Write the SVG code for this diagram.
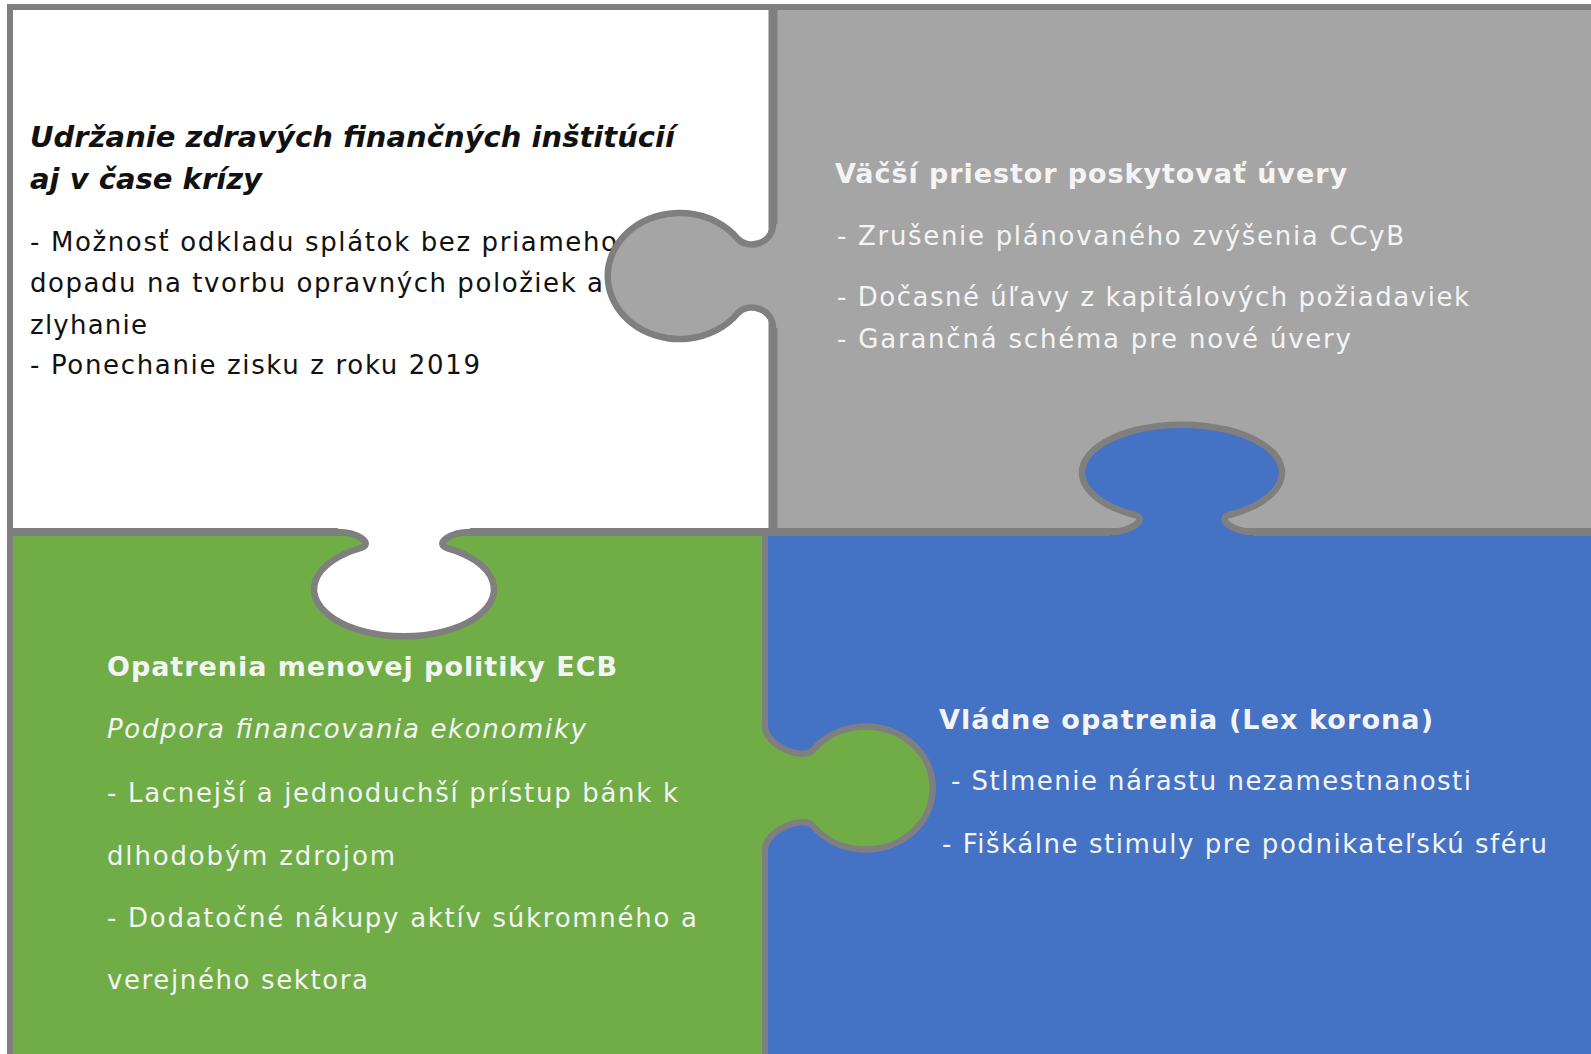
<svg xmlns="http://www.w3.org/2000/svg" width="1591" height="1054" viewBox="0 0 1591 1054">
  <style>
    .seam { stroke: #7f7f7f; fill: none; }
    .edge { stroke: #7f7f7f; stroke-width: 6.5; fill: none; stroke-linecap: butt; }
    .t { font-family: "DejaVu Sans", Verdana, sans-serif; font-size: 26px; }
    .h { font-family: "DejaVu Sans", Verdana, sans-serif; font-size: 27px; font-weight: bold; }
    .hi { font-size: 29px; font-style: italic; }
    .dark { fill: #111111; }
    .light { fill: #f4f4f4; }
  </style>

  <!-- four puzzle panels -->
  <g id="panels">
    <rect x="13" y="10" width="760" height="522" fill="#ffffff"/>
    <rect x="773" y="10" width="818" height="522" fill="#a5a5a5"/>
    <rect x="13" y="532" width="752" height="522" fill="#70ad47"/>
    <rect x="765" y="532" width="826" height="522" fill="#4472c4"/>
  </g>

  <!-- frame and seams between the panels -->
  <g id="seams">
    <line class="seam" x1="7" y1="7" x2="1591" y2="7" stroke-width="6"/>
    <line class="seam" x1="10" y1="4" x2="10" y2="1054" stroke-width="6"/>
    <line class="seam" x1="773" y1="10" x2="773" y2="532" stroke-width="9"/>
    <line class="seam" x1="10" y1="532" x2="1591" y2="532" stroke-width="8"/>
    <line class="seam" x1="765" y1="532" x2="765" y2="1054" stroke-width="6"/>
  </g>

  <!-- top-left: white piece, tab pointing down into the green piece -->
  <g id="piece-institutions">
    <path fill="#ffffff" d="M338,526 L338,532 C358,532 374,544 361,548 A90,47 0 1 0 447,548 C434,544 450,532 470,532 L470,526 Z"/>
    <path class="edge" d="M338,532 C358,532 374,544 361,548 A90,47 0 1 0 447,548 C434,544 450,532 470,532"/>
    <text class="h hi dark" x="30" y="147" textLength="645" lengthAdjust="spacing">Udržanie zdravých finančných inštitúcií</text>
    <text class="h hi dark" x="30" y="189" textLength="232" lengthAdjust="spacing">aj v čase krízy</text>
    <text class="t dark" x="30" y="251" textLength="587" lengthAdjust="spacing">- Možnosť odkladu splátok bez priameho</text>
    <text class="t dark" x="30" y="292" textLength="573" lengthAdjust="spacing">dopadu na tvorbu opravných položiek a</text>
    <text class="t dark" x="30" y="334" textLength="117" lengthAdjust="spacing">zlyhanie</text>
    <text class="t dark" x="30" y="374" textLength="450" lengthAdjust="spacing">- Ponechanie zisku z roku 2019</text>
  </g>

  <!-- top-right: grey piece, tab pointing left into the white piece -->
  <g id="piece-lending">
    <path fill="#a5a5a5" d="M779,224 L773,224 C773,244 748,250 738,239 A72,63 0 1 0 738,313 C748,302 773,308 773,328 L779,328 Z"/>
    <path class="edge" d="M773,224 C773,244 748,250 738,239 A72,63 0 1 0 738,313 C748,302 773,308 773,328"/>
    <text class="h light" x="835" y="183" textLength="512" lengthAdjust="spacing">Väčší priestor poskytovať úvery</text>
    <text class="t light" x="837" y="245" textLength="567" lengthAdjust="spacing">- Zrušenie plánovaného zvýšenia CCyB</text>
    <text class="t light" x="837" y="306" textLength="632" lengthAdjust="spacing">- Dočasné úľavy z kapitálových požiadaviek</text>
    <text class="t light" x="837" y="348" textLength="514" lengthAdjust="spacing">- Garančná schéma pre nové úvery</text>
  </g>

  <!-- bottom-right: blue piece, tab pointing up into the grey piece -->
  <g id="piece-government">
    <path fill="#4472c4" d="M1110,537 L1110,532 C1131,532 1148,519 1135,515 A100,48 0 1 1 1229,515 C1216,519 1233,532 1254,532 L1254,537 Z"/>
    <path class="edge" d="M1110,532 C1131,532 1148,519 1135,515 A100,48 0 1 1 1229,515 C1216,519 1233,532 1254,532"/>
    <text class="h light" x="939" y="729" textLength="494" lengthAdjust="spacing">Vládne opatrenia (Lex korona)</text>
    <text class="t light" x="951" y="790" textLength="520" lengthAdjust="spacing">- Stlmenie nárastu nezamestnanosti</text>
    <text class="t light" x="942" y="853" textLength="605" lengthAdjust="spacing">- Fiškálne stimuly pre podnikateľskú sféru</text>
  </g>

  <!-- bottom-left: green piece, tab pointing right into the blue piece -->
  <g id="piece-ecb">
    <path fill="#70ad47" d="M760,726 L765,726 C765,746 804,761 813,750 A67,61.5 0 1 1 813,826 C804,815 765,830 765,850 L760,850 Z"/>
    <path class="edge" stroke="#8a8a92" d="M765,726 C765,746 804,761 813,750 A67,61.5 0 1 1 813,826 C804,815 765,830 765,850"/>
    <text class="h light" x="107" y="676" textLength="510" lengthAdjust="spacing">Opatrenia menovej politiky ECB</text>
    <text class="t light" font-style="italic" x="107" y="738" textLength="479" lengthAdjust="spacing">Podpora financovania ekonomiky</text>
    <text class="t light" x="107" y="802" textLength="571" lengthAdjust="spacing">- Lacnejší a jednoduchší prístup bánk k</text>
    <text class="t light" x="107" y="865" textLength="288" lengthAdjust="spacing">dlhodobým zdrojom</text>
    <text class="t light" x="107" y="927" textLength="590" lengthAdjust="spacing">- Dodatočné nákupy aktív súkromného a</text>
    <text class="t light" x="107" y="989" textLength="261" lengthAdjust="spacing">verejného sektora</text>
  </g>
</svg>
